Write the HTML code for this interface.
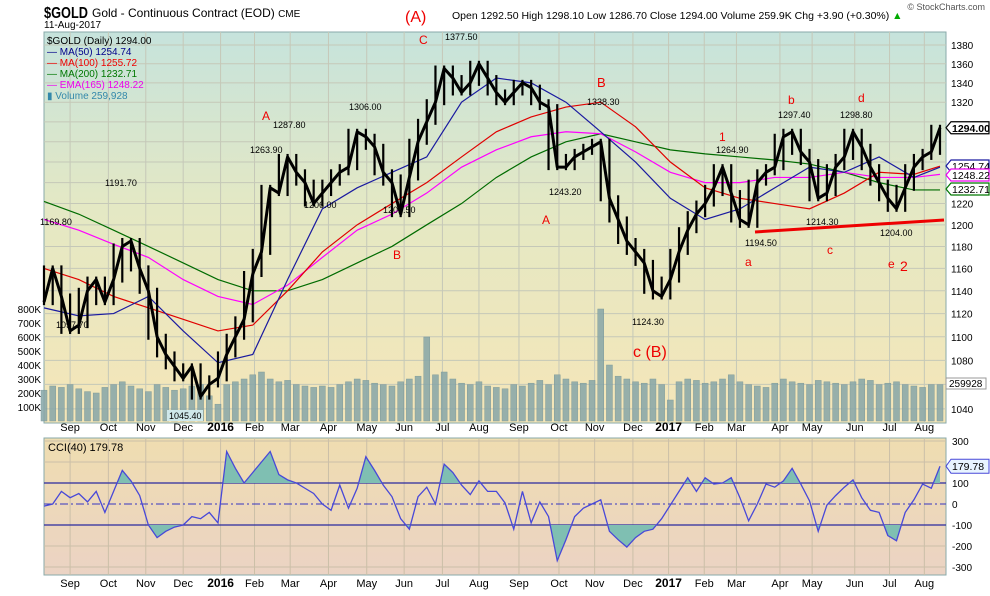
<!DOCTYPE html>
<html><head><meta charset="utf-8"><style>
body{margin:0;background:#fff;}
svg text{font-family:"Liberation Sans",sans-serif;}
</style></head><body>
<svg id="c" width="990" height="591" xmlns="http://www.w3.org/2000/svg">
<defs>
<linearGradient id="gm" x1="0" y1="0" x2="0" y2="1"><stop offset="0" stop-color="#c6e3dc"/><stop offset="0.45" stop-color="#e4e8c4"/><stop offset="1" stop-color="#f5e6b8"/></linearGradient>
<linearGradient id="gc" x1="0" y1="0" x2="0" y2="1"><stop offset="0" stop-color="#efddb0"/><stop offset="1" stop-color="#ebd3c4"/></linearGradient>
</defs>
<g>
<text x="44" y="18" font-size="16" font-weight="bold" textLength="44" lengthAdjust="spacingAndGlyphs">$GOLD</text>
<text x="92" y="17" font-size="12">Gold - Continuous Contract (EOD) <tspan font-size="10">CME</tspan></text>
<text x="44" y="28" font-size="10">11-Aug-2017</text>
<text x="452" y="19" font-size="10.5">Open 1292.50  High 1298.10  Low 1286.70  Close 1294.00  Volume 259.9K  Chg +3.90 (+0.30%) <tspan fill="#0a0">▲</tspan></text>
<text x="985" y="10" font-size="9" text-anchor="end" fill="#555">© StockCharts.com</text>
</g>
<rect x="44" y="32" width="902" height="391" fill="url(#gm)" stroke="#8aa"/>
<rect x="44" y="438" width="902" height="137" fill="url(#gc)" stroke="#8aa"/>
<g id="grid"></g>
<g id="vol"></g>
<g id="mas"></g>
<g id="price"></g>
<g id="cci"></g>
<g id="axes"></g>
<g font-size="9">
<text x="405" y="22" fill="#e00" font-size="16">(A)</text>
<text x="419" y="44" fill="#e00" font-size="12">C</text>
<text x="262" y="120" fill="#e00" font-size="12">A</text>
<text x="393" y="259" fill="#e00" font-size="12">B</text>
<text x="597" y="87" fill="#e00" font-size="13">B</text>
<text x="542" y="224" fill="#e00" font-size="12">A</text>
<text x="633" y="357" fill="#e00" font-size="16">c (B)</text>
<text x="719" y="141" fill="#e00" font-size="12">1</text>
<text x="788" y="104" fill="#e00" font-size="12">b</text>
<text x="858" y="102" fill="#e00" font-size="12">d</text>
<text x="745" y="266" fill="#e00" font-size="12">a</text>
<text x="827" y="254" fill="#e00" font-size="12">c</text>
<text x="888" y="268" fill="#e00" font-size="12">e</text>
<text x="900" y="271" fill="#e00" font-size="14">2</text>
<line x1="755" y1="232" x2="944" y2="220" stroke="#e00" stroke-width="3"/>
<text x="445" y="40">1377.50</text>
<text x="250" y="153">1263.90</text>
<text x="273" y="128">1287.80</text>
<text x="349" y="110">1306.00</text>
<text x="304" y="208">1206.00</text>
<text x="383" y="213">1201.50</text>
<text x="587" y="105">1338.30</text>
<text x="549" y="195">1243.20</text>
<text x="632" y="325">1124.30</text>
<text x="716" y="153">1264.90</text>
<text x="778" y="118">1297.40</text>
<text x="840" y="118">1298.80</text>
<text x="806" y="225">1214.30</text>
<text x="745" y="246">1194.50</text>
<text x="880" y="236">1204.00</text>
<text x="105" y="186">1191.70</text>
<text x="40" y="225">1169.80</text>
<text x="56" y="328">1097.70</text>
<rect x="167" y="410" width="36" height="11" fill="#cfe8ea"/>
<text x="169" y="419">1045.40</text>
</g>
<g font-size="10">
<text x="47" y="44" font-family="Liberation Mono,monospace">$GOLD (Daily) 1294.00</text>
<text x="47" y="55" fill="#00008b">— MA(50) 1254.74</text>
<text x="47" y="66" fill="#e00">— MA(100) 1255.72</text>
<text x="47" y="77" fill="#070">— MA(200) 1232.71</text>
<text x="47" y="88" fill="#e0e">— EMA(165) 1248.22</text>
<text x="47" y="99" fill="#38a">▮ Volume 259,928</text>
<text x="48" y="451" font-size="11">CCI(40) 179.78</text>
</g>
</svg>
<script>
const closes=[1130,1160,1135,1105,1110,1140,1150,1130,1150,1180,1185,1160,1140,1100,1085,1075,1065,1075,1050,1060,1065,1085,1100,1115,1155,1175,1235,1230,1265,1250,1240,1220,1230,1240,1250,1255,1290,1285,1275,1250,1240,1210,1245,1280,1300,1320,1355,1345,1330,1340,1360,1345,1330,1320,1330,1340,1335,1320,1315,1255,1255,1265,1270,1275,1280,1225,1205,1185,1175,1165,1140,1135,1150,1175,1195,1210,1220,1235,1255,1230,1205,1200,1240,1250,1255,1285,1290,1270,1260,1225,1230,1255,1265,1290,1275,1255,1240,1225,1215,1235,1255,1265,1270,1294];
const volumes=[220,250,240,260,230,210,200,240,260,280,250,230,210,260,240,220,230,250,260,180,120,260,280,300,330,350,300,280,290,260,250,240,250,240,260,280,300,290,270,260,250,280,300,320,600,330,350,300,270,260,280,250,240,230,260,250,270,290,260,330,300,280,270,290,800,400,320,300,280,270,300,260,150,280,300,290,270,280,300,330,280,260,250,240,270,300,280,270,260,290,280,270,260,280,300,290,260,270,280,260,250,240,260,260];
const maIdx=[0,4,8,12,16,20,24,28,32,36,40,44,48,52,56,60,64,68,72,76,80,84,88,92,96,100,103];
const ma50=[1125,1118,1120,1135,1105,1078,1085,1150,1215,1235,1250,1265,1320,1345,1340,1320,1290,1260,1225,1205,1215,1235,1255,1250,1265,1245,1255];
const ma100=[1160,1150,1135,1125,1115,1105,1110,1140,1175,1200,1220,1240,1265,1290,1305,1315,1320,1295,1260,1235,1225,1220,1215,1230,1250,1248,1256];
const ma200=[1222,1210,1195,1180,1165,1150,1140,1140,1150,1165,1180,1200,1220,1245,1265,1280,1288,1280,1272,1268,1265,1262,1258,1250,1240,1233,1233];
const ema165=[1205,1195,1182,1170,1150,1135,1128,1145,1170,1195,1210,1230,1255,1272,1285,1290,1288,1270,1250,1240,1240,1245,1245,1250,1245,1245,1248];
const cciVals=[-10,0,60,30,50,10,60,-40,60,160,110,40,-100,-160,-130,-110,-100,-60,-70,-40,-90,250,170,100,150,200,250,140,115,100,75,50,0,-30,90,-20,75,225,160,90,35,-70,-120,35,80,0,190,150,90,45,110,60,60,5,-120,60,-90,10,-60,-270,-170,-60,-20,0,20,-130,-170,-205,-160,-130,-120,-70,-5,60,125,60,125,95,100,125,30,-80,0,95,80,110,170,95,15,-130,-5,40,80,115,30,-30,-40,-150,-175,-40,20,95,75,180];
const priceTicks=[1380,1360,1340,1320,1300,1280,1260,1240,1220,1200,1180,1160,1140,1120,1100,1080,1060,1040];
const volTicks=[100,200,300,400,500,600,700,800];
const cciTicks=[300,200,100,0,-100,-200,-300];
const monthLabels=["Sep","Oct","Nov","Dec","2016","Feb","Mar","Apr","May","Jun","Jul","Aug","Sep","Oct","Nov","Dec","2017","Feb","Mar","Apr","May","Jun","Jul","Aug"];
const monthWeek=[3,7.4,11.7,16,20.3,24.2,28.3,32.7,37.1,41.4,45.8,50,54.6,59.2,63.3,67.7,71.8,75.9,79.6,84.6,88.3,93.2,97.2,101.2];
const NS="http://www.w3.org/2000/svg";
const X=i=>44+i*896/103;
const Y=p=>45+1286.6*Math.log(1380/p);
const VY=v=>421-v*0.14;
const CY=v=>504-v*0.21;
function mk(tag,attrs,parent){const e=document.createElementNS(NS,tag);for(const k in attrs)e.setAttribute(k,attrs[k]);document.getElementById(parent).appendChild(e);return e;}
monthWeek.forEach((w,k)=>{
 let g=mk('line',{x1:X(w),x2:X(w),y1:32,y2:423,stroke:'#c5c8b8','stroke-width':1},'grid');
 
 
 let g2=mk('line',{x1:X(w),x2:X(w),y1:438,y2:575,stroke:'#cbbfa8','stroke-width':1},'grid');
 
 
 [431,587].forEach(yy=>{
  const bold=monthLabels[k].length===4;
  let t=mk('text',{x:X(w),y:yy,'font-size':bold?12:11,'font-weight':bold?'bold':'normal','text-anchor':'middle'},'axes');
  t.textContent=monthLabels[k];
  
  
 });
});
priceTicks.forEach(p=>{
 let g=mk('line',{x1:44,x2:946,y1:Y(p),y2:Y(p),stroke:'#c5c8b8'},'grid');
 
 
 if(p>=1240&&p<=1300)return;
 let t=mk('text',{x:951,y:Y(p)+4,'font-size':10},'axes');
 t.textContent=p;
 
 
});
volTicks.forEach(v=>{
 let t=mk('text',{x:41,y:VY(v)+4,'font-size':10,'text-anchor':'end'},'axes');
 t.textContent=v+'K';
 
 
});
cciTicks.forEach(v=>{
 let g=mk('line',{x1:44,x2:946,y1:CY(v),y2:CY(v),stroke:(v===100||v===-100)?'#2a2aa0':(v===0?'#3535c0':'#cbbfa8'),'stroke-width':(Math.abs(v)===100)?1.2:1,'stroke-dasharray':v===0?'8,3,2,3':'none'},'grid');
 
 
 let t=mk('text',{x:952,y:CY(v)+4,'font-size':10},'axes');
 t.textContent=v;
 
 
});
volumes.forEach((v,i)=>{
 let r=mk('rect',{x:X(i)-3,y:VY(v),width:6,height:421-VY(v),fill:'#87a6a8',stroke:'#6f8f93','stroke-width':0.5,opacity:0.85},'vol');
 
 
});
[[ma200,'#006b00','ma200-line'],[ema165,'#ff00ff','ema165-line'],[ma100,'#e00000','ma100-line'],[ma50,'#1a1aa0','ma50-line']].forEach(([arr,col,nm])=>{
 let l=mk('polyline',{points:arr.map((v,k)=>X(maIdx[k])+','+Y(v)).join(' '),fill:'none',stroke:col,'stroke-width':1.2},'mas');
 
 
});
closes.forEach((v,i)=>{
 const a=closes[Math.max(0,i-1)],b=closes[Math.min(103,i+1)];
 const hi=Math.max(v,a,b),lo=Math.min(v,a,b);
 let r=mk('line',{x1:X(i),x2:X(i),y1:Y(hi)-3,y2:Y(lo)+3,stroke:'#000','stroke-width':2.2},'price');
 
 
});
let pl=mk('polyline',{points:closes.map((v,i)=>X(i)+','+Y(v)).join(' '),fill:'none',stroke:'#000','stroke-width':3,'stroke-linejoin':'round'},'price');


const pts=cciVals.map((v,i)=>X(i)+','+CY(v));
const cp1=mk('clipPath',{id:'cAbove'},'cci');mk('rect',{x:44,y:438,width:902,height:CY(100)-438},'cci');
cp1.appendChild(document.getElementById('cci').lastChild);
const cp2=mk('clipPath',{id:'cBelow'},'cci');mk('rect',{x:44,y:CY(-100),width:902,height:575-CY(-100)},'cci');
cp2.appendChild(document.getElementById('cci').lastChild);
let fa=mk('polygon',{points:X(0)+','+CY(100)+' '+pts.join(' ')+' '+X(103)+','+CY(100),fill:'#7fbfb2','clip-path':'url(#cAbove)'},'cci');


let fb=mk('polygon',{points:X(0)+','+CY(-100)+' '+pts.join(' ')+' '+X(103)+','+CY(-100),fill:'#7fbfb2','clip-path':'url(#cBelow)'},'cci');


let cl=mk('polyline',{points:pts.join(' '),fill:'none',stroke:'#4848d8','stroke-width':1.3},'cci');


[[closes[103],'1294.00','#000','#fff',Y(closes[103]),'price-value-box'],[1254.74,'1254.74','#1a1aa0','#fff',166,'ma50-value-box'],[1248.22,'1248.22','#e0e','#fff',175,'ema165-value-box'],[1232.71,'1232.71','#070','#fff',189,'ma200-value-box']].forEach(b=>{
 let r=mk('polygon',{points:`946,${b[4]} 951,${b[4]-6} 989,${b[4]-6} 989,${b[4]+6} 951,${b[4]+6}`,fill:b[3],stroke:b[2],'stroke-width':1.2},'axes');
 
 
 let t=mk('text',{x:952,y:b[4]+4,'font-size':10.5,'font-weight':b[1]==='1294.00'?'bold':'normal',fill:'#000'},'axes');
 t.textContent=b[1];
 
 
});
let vb=mk('rect',{x:946,y:378,width:40,height:11,fill:'#fff',stroke:'#999'},'axes');


let vt=mk('text',{x:949,y:387,'font-size':10},'axes');vt.textContent='259928';


const cv=CY(cciVals[103]);
let cb=mk('polygon',{points:`946,${cv} 951,${cv-7} 989,${cv-7} 989,${cv+7} 951,${cv+7}`,fill:'#e8f4ff',stroke:'#4848d8'},'axes');


let ct=mk('text',{x:952,y:cv+4,'font-size':10.5},'axes');ct.textContent='179.78';


</script>
</body></html>
